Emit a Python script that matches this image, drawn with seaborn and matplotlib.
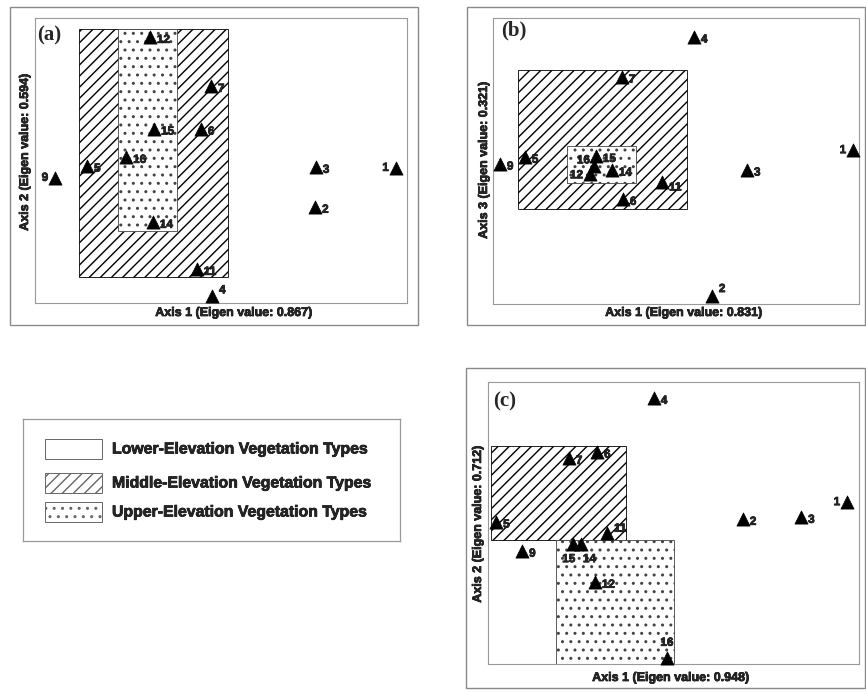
import matplotlib
matplotlib.use("Agg")
import matplotlib.pyplot as plt
from matplotlib.patches import Rectangle
import matplotlib.patheffects as pe
import seaborn as sns
import pandas as pd

sns.set_theme(style="white")
plt.rcParams['font.family'] = ['Liberation Sans', 'DejaVu Sans']
plt.rcParams['hatch.linewidth'] = 1.0

# ---------------- data (ordination scores, scaled 0-100 within each plot) ----------------
sites_a = ["12", "7", "15", "6", "16", "5", "9", "3", "1", "2", "14", "11", "4"]
axis1_a = [30.9, 47.3, 32.0, 44.6, 24.5, 14.0, 5.4, 75.5, 97.0, 75.3, 31.7, 43.5, 47.6]
axis2_a = [93.3, 76.1, 61.1, 61.1, 51.2, 48.1, 43.9, 47.7, 47.4, 33.7, 28.4, 11.9, 2.5]
xlabel_a = "Axis 1 (Eigen value: 0.867)"
ylabel_a = "Axis 2 (Eigen value: 0.594)"
middle_a = [11.8, 51.9, 9.1, 96.1]   # x0, x1, y0, y1
upper_a = [22.3, 38.2, 25.3, 96.1]

sites_b = ["4", "7", "5", "9", "15", "16", "12", "14", "11", "6", "3", "1", "2"]
axis1_b = [54.9, 35.2, 8.7, 1.9, 28.1, 27.6, 26.5, 32.5, 46.2, 35.5, 69.4, 98.4, 59.8]
axis3_b = [93.4, 79.4, 51.4, 49.0, 51.7, 48.3, 45.5, 46.9, 42.7, 36.7, 46.9, 53.8, 2.8]
xlabel_b = "Axis 1 (Eigen value: 0.831)"
ylabel_b = "Axis 3 (Eigen value: 0.321)"
middle_b = [6.8, 53.0, 33.2, 81.8]
upper_b = [20.2, 39.1, 42.3, 55.2]

sites_c = ["4", "7", "6", "1", "2", "3", "5", "11", "15", "14", "9", "12", "16"]
axis1_c = [44.7, 21.8, 29.4, 96.8, 68.7, 84.4, 2.2, 32.1, 22.9, 25.1, 9.2, 28.8, 48.2]
axis2_c = [94.3, 73.0, 75.2, 57.4, 51.4, 52.1, 50.4, 46.5, 42.6, 42.6, 40.1, 29.1, 2.1]
xlabel_c = "Axis 1 (Eigen value: 0.948)"
ylabel_c = "Axis 2 (Eigen value: 0.712)"
middle_c = [0.8, 37.2, 44.0, 77.3]
upper_c = [18.3, 50.1, 0.0, 44.0]

legend_labels = ["Lower-Elevation Vegetation Types",
                 "Middle-Elevation Vegetation Types",
                 "Upper-Elevation Vegetation Types"]

# label placement (style only): offsets in points and alignment
RIGHT = ((5, -2), "left", "center")
LEFT = ((-5, 0), "right", "center")
special_a = {"9": LEFT, "1": LEFT, "4": ((5, 4), "left", "center")}
special_b = {"1": LEFT, "16": ((-3, 4), "right", "center"), "12": ((-5, -1), "right", "center"),
             "2": ((5, 5), "left", "center"), "11": ((5, -4), "left", "center")}
special_c = {"1": LEFT, "15": ((-3, -11), "center", "center"),
             "14": ((6, -11), "center", "center"), "16": ((0, 11), "center", "center"),
             "11": ((5, 3), "left", "center")}

W, H = 866, 692
fig = plt.figure(figsize=(W / 100, H / 100), dpi=100)
fig.patch.set_facecolor("white")

LABEL_FS = 9.0
HEAVY = [pe.withStroke(linewidth=0.5, foreground="black")]


def px_rect(x0, y0, x1, y1):
    return [x0 / W, 1 - y1 / H, (x1 - x0) / W, (y1 - y0) / H]


def outer_box(x0, y0, x1, y1):
    fig.patches.append(Rectangle((x0 / W, 1 - y1 / H), (x1 - x0) / W, (y1 - y0) / H,
                                 transform=fig.transFigure, fill=False,
                                 edgecolor="#8a8a8a", linewidth=1.0, zorder=0))


def panel(box, sites, xs, ys, middle, upper, special, letter, xlabel, ylabel,
          xlab_pos, ylab_pos, letter_pos):
    ax = fig.add_axes(px_rect(*box))
    ax.set_xlim(0, 100)
    ax.set_ylim(0, 100)
    ax.set_xticks([])
    ax.set_yticks([])
    for s in ax.spines.values():
        s.set_color("#999999")
        s.set_linewidth(0.8)
        s.set_linestyle((0, (2, 1)))
    # middle elevation (hatched)
    mx0, mx1, my0, my1 = middle
    ax.add_patch(Rectangle((mx0, my0), mx1 - mx0, my1 - my0, facecolor="white",
                           edgecolor="black", hatch="///", linewidth=0.6, zorder=1))
    # upper elevation (dotted)
    ux0, ux1, uy0, uy1 = upper
    ax.add_patch(Rectangle((ux0, uy0), ux1 - ux0, uy1 - uy0, facecolor="white",
                           edgecolor="#444444", hatch="..", linewidth=0.6, zorder=2))
    df = pd.DataFrame({"site": sites, "x": xs, "y": ys})
    sns.scatterplot(data=df, x="x", y="y", marker="^", s=90, color="black",
                    edgecolor="black", linewidth=0.5, ax=ax, legend=False,
                    zorder=5, clip_on=False)
    for name, x, y in zip(sites, xs, ys):
        off, ha, va = special.get(name, RIGHT)
        ax.annotate(name, (x, y), xytext=off, textcoords="offset points",
                    ha=ha, va=va, fontsize=8.5, fontweight="bold", zorder=6,
                    annotation_clip=False, path_effects=HEAVY)
    ax.set_xlabel("")
    ax.set_ylabel("")
    fig.text(xlab_pos[0] / W, 1 - xlab_pos[1] / H, xlabel, ha="center", va="center",
             fontsize=LABEL_FS, fontweight="bold", path_effects=HEAVY)
    fig.text(ylab_pos[0] / W, 1 - ylab_pos[1] / H, ylabel, ha="center", va="center",
             rotation=90, fontsize=LABEL_FS, fontweight="bold", path_effects=HEAVY)
    fig.text(letter_pos[0] / W, 1 - letter_pos[1] / H, letter, ha="left", va="center",
             fontsize=15, fontweight="bold", family=["Liberation Serif", "DejaVu Serif"])
    return ax


outer_box(10, 7, 418, 325)
outer_box(467, 7, 865, 325)
outer_box(466, 368, 865, 688)

panel((35, 18, 407, 303), sites_a, axis1_a, axis2_a, middle_a, upper_a, special_a,
      "(a)", xlabel_a, ylabel_a, (234, 313), (25, 152), (37, 35))
panel((493, 18, 859, 304), sites_b, axis1_b, axis3_b, middle_b, upper_b, special_b,
      "(b)", xlabel_b, ylabel_b, (684, 313), (484, 160), (501, 30))
panel((488, 382, 859, 664), sites_c, axis1_c, axis2_c, middle_c, upper_c, special_c,
      "(c)", xlabel_c, ylabel_c, (671, 678), (478, 524), (493, 401))

# ---------------- legend box ----------------
lx0, ly0, lx1, ly1 = 23, 419, 400, 541
lax = fig.add_axes(px_rect(lx0, ly0, lx1, ly1))
lax.set_xlim(0, lx1 - lx0)
lax.set_ylim(ly1 - ly0, 0)
lax.set_xticks([])
lax.set_yticks([])
for s in lax.spines.values():
    s.set_color("#999999")
    s.set_linewidth(0.9)
hatches = [None, "///", ".."]
row_centers = [30, 64, 93]
for lab, hatch, yc in zip(legend_labels, hatches, row_centers):
    lax.add_patch(Rectangle((22, yc - 10), 57, 20, facecolor="white",
                            edgecolor="#666666", hatch=hatch, linewidth=0.7))
    lax.text(89, yc, lab, ha="left", va="center", fontsize=11.4, fontweight="bold",
             path_effects=HEAVY)

fig.savefig("out.png", dpi=100, facecolor="white")
